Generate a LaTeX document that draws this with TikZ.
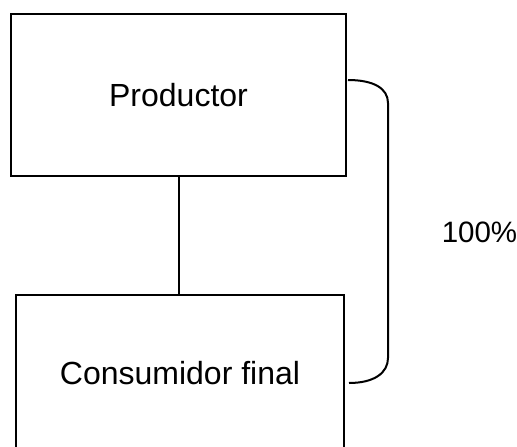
\documentclass[tikz,border=0pt]{standalone}
\usepackage{fontspec}
\setmainfont{Liberation Sans}
\begin{document}
\begin{tikzpicture}[x=1pt,y=-1pt,
  box/.style={draw, line width=2pt, inner sep=0pt, anchor=north west, font=\fontsize{32}{37}\selectfont},
  conn/.style={line width=2pt}]
\useasboundingbox (0,0) rectangle (517,447);
\clip (0,0) rectangle (517,447);
\node[box, minimum width=335pt, minimum height=162pt] (prod) at (10,13) {Productor};
\node[box, minimum width=328pt, minimum height=157pt] (cons) at (15,294) {Consumidor final};
\draw[conn] (prod.south) -- (prod.south |- cons.north);
\coordinate (b1) at (348,80);
\coordinate (b2) at (388,103);
\coordinate (b3) at (388,358);
\coordinate (b4) at (349,383);
\draw[conn] (b1) .. controls (373,80) and (388,88) .. (b2) -- (b3) .. controls (388,373) and (374,383) .. (b4);
\node[font=\fontsize{29.5}{34}\selectfont, inner sep=0pt] (pct) at (479.5,232) {100\%};
\end{tikzpicture}
\end{document}
